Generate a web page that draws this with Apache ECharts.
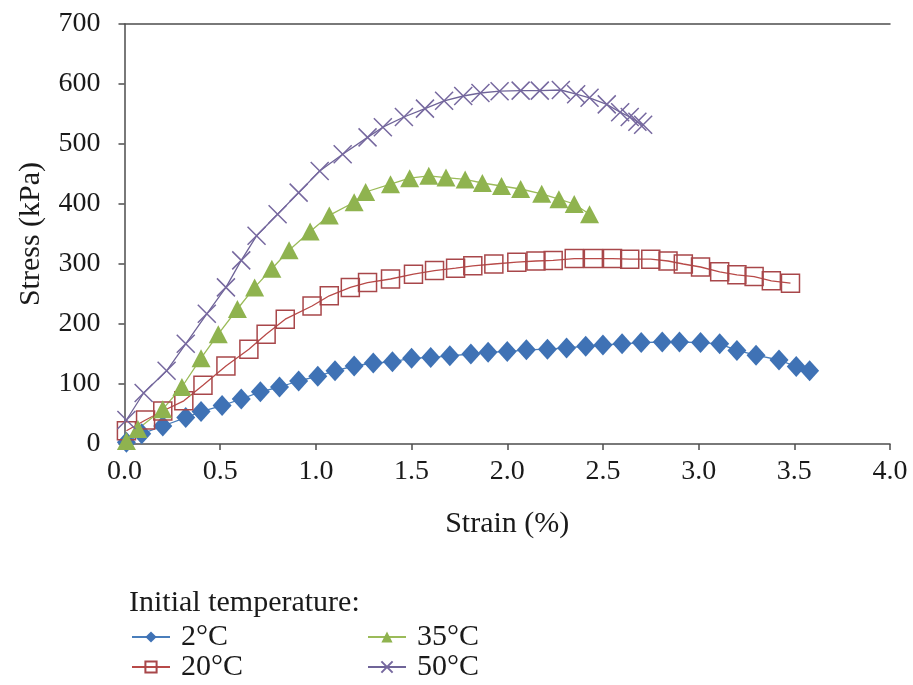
<!DOCTYPE html>
<html>
<head>
<meta charset="utf-8">
<title>Stress–strain curves</title>
<script src="https://cdn.jsdelivr.net/npm/echarts@6/dist/echarts.min.js"></script>
<style>
  html, body { margin: 0; padding: 0; background: #ffffff; }
  #chart { width: 913px; height: 685px; }
</style>
</head>
<body>
<div id="chart"></div>
<script>
// Axis ranges and ticks
const strainMin = 0, strainMax = 4.0, strainStep = 0.5;
const stressMin = 0, stressMax = 700, stressStep = 100;

// Series labels (initial temperature)
const seriesNames = ['2°C', '20°C', '35°C', '50°C'];

// 2°C
const strain2C = [0.01, 0.09, 0.20, 0.32, 0.40, 0.51, 0.61, 0.71, 0.81, 0.91, 1.01, 1.10, 1.20, 1.30, 1.40, 1.50, 1.60, 1.70, 1.81, 1.90, 2.00, 2.10, 2.21, 2.31, 2.41, 2.50, 2.60, 2.70, 2.81, 2.90, 3.01, 3.11, 3.20, 3.30, 3.42, 3.51, 3.58];
const stress2C = [3, 17, 30, 44, 54, 64, 75, 87, 95, 105, 113, 122, 130, 135, 137, 143, 144, 147, 150, 153, 154, 157, 158, 160, 163, 165, 167, 169, 170, 170, 169, 167, 156, 148, 140, 129, 122];

// 20°C
const strain20C = [0.01, 0.11, 0.20, 0.31, 0.41, 0.53, 0.65, 0.74, 0.84, 0.98, 1.07, 1.18, 1.27, 1.39, 1.51, 1.62, 1.73, 1.82, 1.93, 2.05, 2.15, 2.24, 2.35, 2.45, 2.55, 2.64, 2.75, 2.84, 2.92, 3.01, 3.11, 3.20, 3.29, 3.38, 3.48];
const stress20C = [22, 40, 55, 72, 98, 130, 158, 183, 208, 230, 247, 261, 269, 275, 283, 289, 293, 297, 300, 303, 305, 306, 309, 309, 309, 308, 308, 305, 300, 295, 287, 282, 279, 272, 268];

// 35°C
const strain35C = [0.01, 0.07, 0.20, 0.30, 0.40, 0.49, 0.59, 0.68, 0.77, 0.86, 0.97, 1.07, 1.20, 1.26, 1.39, 1.49, 1.59, 1.68, 1.78, 1.87, 1.97, 2.07, 2.18, 2.27, 2.35, 2.43];
const stress35C = [5, 25, 58, 95, 143, 183, 225, 261, 292, 323, 354, 381, 403, 420, 433, 443, 447, 444, 441, 435, 430, 425, 417, 408, 400, 383];

// 50°C
const strain50C = [0.01, 0.10, 0.22, 0.32, 0.43, 0.53, 0.61, 0.69, 0.80, 0.91, 1.02, 1.14, 1.27, 1.35, 1.46, 1.57, 1.67, 1.77, 1.86, 1.96, 2.07, 2.17, 2.28, 2.36, 2.43, 2.52, 2.59, 2.64, 2.68, 2.71];
const stress50C = [40, 85, 122, 167, 217, 261, 306, 347, 383, 419, 455, 483, 511, 528, 545, 559, 572, 580, 585, 588, 589, 589, 590, 583, 577, 566, 553, 545, 537, 532];

const FONT = '"Liberation Serif", "DejaVu Serif", serif';
const TEXT = '#1a1a1a';
const AXIS = '#4d4d4d';

function pairs(xs, ys) { return xs.map((x, i) => [x, ys[i]]); }

// one legend block per entry, laid out as a 2 x 2 key
function legendEntry(name, left, top) {
  return {
    data: [name],
    left: left, top: top,
    itemWidth: 38, itemHeight: 14,
    textStyle: { fontFamily: FONT, fontSize: 30, color: TEXT, lineHeight: 30, padding: [0, 0, 0, 6] }
  };
}

const chart = echarts.init(document.getElementById('chart'), null, { renderer: 'canvas' });

const crossPath = 'path://M0,0L10,10M10,0L0,10';

chart.setOption({
  backgroundColor: '#ffffff',
  animation: false,
  textStyle: { fontFamily: FONT, color: TEXT },
  title: {
    text: 'Initial temperature:',
    left: 124,
    top: 583,
    textStyle: { fontFamily: FONT, fontSize: 30, fontWeight: 'normal', color: TEXT }
  },
  legend: [
    legendEntry(seriesNames[0], 126, 617),
    legendEntry(seriesNames[1], 126, 647),
    legendEntry(seriesNames[2], 362, 617),
    legendEntry(seriesNames[3], 362, 647)
  ],
  grid: { left: 124.5, right: 23, top: 24, bottom: 241, containLabel: false },
  xAxis: [
    {
      type: 'value',
      min: strainMin, max: strainMax, interval: strainStep,
      name: 'Strain (%)',
      nameLocation: 'middle',
      nameGap: 65,
      nameTextStyle: { fontFamily: FONT, fontSize: 30, color: TEXT },
      axisLine: { show: true, onZero: false, lineStyle: { color: AXIS, width: 1.5 } },
      axisTick: { show: true, inside: false, length: 6, lineStyle: { color: AXIS, width: 1.5 } },
      axisLabel: { margin: 14, fontFamily: FONT, fontSize: 28, color: TEXT, formatter: v => v.toFixed(1) },
      splitLine: { show: false }
    },
    {
      type: 'value', position: 'top',
      min: strainMin, max: strainMax,
      axisLine: { show: true, onZero: false, lineStyle: { color: AXIS, width: 1.5 } },
      axisTick: { show: false }, axisLabel: { show: false }, splitLine: { show: false }
    }
  ],
  yAxis: {
    type: 'value',
    min: stressMin, max: stressMax, interval: stressStep,
    name: 'Stress (kPa)',
    nameLocation: 'middle',
    nameGap: 78,
    nameTextStyle: { fontFamily: FONT, fontSize: 30, color: TEXT },
    axisLine: { show: true, onZero: false, lineStyle: { color: AXIS, width: 1.5 } },
    axisTick: { show: true, inside: false, length: 6, lineStyle: { color: AXIS, width: 1.5 } },
    axisLabel: { margin: 24, fontFamily: FONT, fontSize: 28, color: TEXT },
    splitLine: { show: false }
  },
  series: [
    {
      name: seriesNames[0], type: 'line', xAxisIndex: 0,
      data: pairs(strain2C, stress2C),
      symbol: 'diamond', symbolSize: [19, 21],
      itemStyle: { color: '#3f72b5' },
      lineStyle: { color: '#4a7ebb', width: 1.3 }
    },
    {
      name: seriesNames[1], type: 'line', xAxisIndex: 0,
      data: pairs(strain20C, stress20C),
      symbol: 'rect', symbolSize: [18, 18],
      itemStyle: { color: 'rgba(255,255,255,0)', borderColor: '#a8474a', borderWidth: 1.5 },
      lineStyle: { color: '#b84a48', width: 1.3 }
    },
    {
      name: seriesNames[2], type: 'line', xAxisIndex: 0,
      data: pairs(strain35C, stress35C),
      symbol: 'triangle', symbolSize: [19, 18],
      itemStyle: { color: '#8fb34f' },
      lineStyle: { color: '#9bbb59', width: 1.3 }
    },
    {
      name: seriesNames[3], type: 'line', xAxisIndex: 0,
      data: pairs(strain50C, stress50C),
      symbol: crossPath, symbolSize: [18, 18],
      itemStyle: { color: 'rgba(0,0,0,0)', borderColor: '#76689f', borderWidth: 1.5 },
      lineStyle: { color: '#6f6498', width: 1.3 }
    }
  ]
});
</script>
</body>
</html>
